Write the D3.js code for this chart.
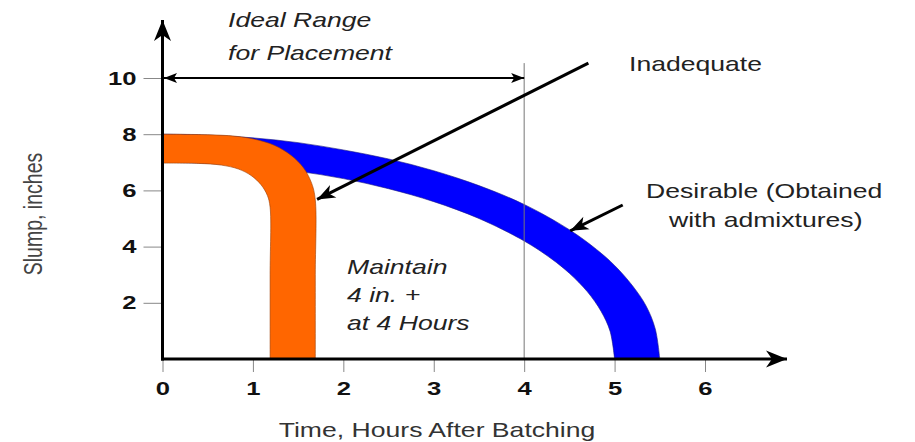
<!DOCTYPE html>
<html><head><meta charset="utf-8">
<script src="https://cdn.jsdelivr.net/npm/d3@7"></script>
<style>body{margin:0;background:#fff} svg{display:block}</style>
</head><body><svg id="c" width="915" height="442"></svg>
<script>
// ---- data (hours, slump inches) ----
const xTicks = [0, 1, 2, 3, 4, 5, 6];
const yTicks = [2, 4, 6, 8, 10];
const blueOuter = [[0,8],[0.5,7.97],[1,7.87],[1.5,7.7],[2,7.44],[2.5,7.12],[3,6.7],[3.5,6.17],[4,5.5],[4.5,4.6],[4.8,3.9],[5.0,3.33],[5.2,2.6],[5.35,1.88],[5.45,1.07],[5.5,0]];
const blueInner = [[0,7.0],[0.5,6.96],[1,6.86],[1.5,6.68],[2,6.42],[2.5,6.06],[3,5.6],[3.5,5.0],[4,4.2],[4.3,3.57],[4.5,3.05],[4.7,2.39],[4.85,1.7],[4.95,0.99],[5.0,0]];
const orangeOuter = [[0,8],[0.5,7.98],[0.8,7.93],[1.02,7.82],[1.24,7.6],[1.42,7.25],[1.56,6.8],[1.65,6.25],[1.69,5.66],[1.69,3],[1.69,0]];
const orangeInner = [[0,6.97],[0.4,6.96],[0.65,6.9],[0.84,6.76],[0.98,6.53],[1.09,6.2],[1.16,5.82],[1.19,5.4],[1.19,3],[1.19,0]];
const idealRange = [0, 4];       // hours
const idealSlump = 10;
const rangeLineTop = 10.53;      // top of the 4-hour guide line
const inadequateArrow = [[4.71,10.53],[1.71,5.68]];
const desirableArrow = [[5.09,5.48],[4.51,4.56]];

const svg = d3.select('#c');
const x = d3.scaleLinear().domain([0, 6]).range([162.5, 705]);
const y = d3.scaleLinear().domain([0, 10]).range([359, 78]);
const FONT = '"Liberation Sans", Arial, sans-serif';
const SX = 1.33; // horizontal stretch of the original picture's text

const defs = svg.append('defs');
function marker(id, L, W, notch){
  defs.append('marker').attr('id', id).attr('markerUnits','userSpaceOnUse')
    .attr('viewBox', `${-L} ${-W/2} ${L} ${W}`).attr('refX',0).attr('refY',0)
    .attr('markerWidth', L).attr('markerHeight', W).attr('orient','auto-start-reverse')
    .style('overflow','visible')
    .append('path').attr('d', `M0,0L${-L},${-W/2}L${-L+notch},0L${-L},${W/2}Z`).attr('fill','#000');
}
marker('axisHead', 21, 17, 6);
marker('annHead', 18, 14, 5);
marker('rangeHead', 13, 10, 3);

// bands
const line = d3.line().x(d => x(d[0])).y(d => y(d[1])).curve(d3.curveCatmullRom.alpha(0.5));
function band(outer, inner){
  return line(outer) + line(inner.slice().reverse()).replace(/^M/, 'L') + 'Z';
}
svg.append('path').attr('d', band(blueOuter, blueInner)).attr('fill', '#0000ff')
  .attr('stroke', '#1a1a80').attr('stroke-width', 0.6);
svg.append('path').attr('d', band(orangeOuter, orangeInner)).attr('fill', '#ff6600')
  .attr('stroke', '#9a3d00').attr('stroke-width', 0.6);

// 4-hour guide line
svg.append('line').attr('x1', x(4)).attr('x2', x(4)).attr('y1', y(rangeLineTop)).attr('y2', y(0))
  .attr('stroke', '#777').attr('stroke-width', 1);

// x axis ticks
const xa = svg.append('g').attr('transform', `translate(0,${y(0)})`)
  .call(d3.axisBottom(x).tickValues(xTicks).tickSize(13).tickPadding(10).tickFormat(d3.format('d')));
xa.select('.domain').remove();
xa.selectAll('line').attr('stroke', '#888');
xa.selectAll('text').attr('font-family', FONT).attr('font-size', 19).attr('font-weight', 'bold')
  .attr('fill', '#111').attr('transform', 'scale(1.35,1)');

// y axis ticks
const ya = svg.append('g').attr('transform', `translate(${x(0)},0)`)
  .call(d3.axisLeft(y).tickValues(yTicks).tickSize(19).tickPadding(10).tickFormat(d3.format('d')));
ya.select('.domain').remove();
ya.selectAll('line').attr('stroke', '#888');
ya.selectAll('text').attr('font-family', FONT).attr('font-size', 19).attr('font-weight', 'bold')
  .attr('fill', '#111').attr('x', -26 / 1.35).attr('transform', 'scale(1.35,1)');

// axis arrows
svg.append('line').attr('x1', x(0)).attr('x2', x(0)).attr('y1', y(0) + 1.5).attr('y2', 20)
  .attr('stroke', '#000').attr('stroke-width', 3).attr('marker-end', 'url(#axisHead)');
svg.append('line').attr('x1', x(0) - 1.5).attr('x2', 787).attr('y1', y(0)).attr('y2', y(0))
  .attr('stroke', '#000').attr('stroke-width', 3).attr('marker-end', 'url(#axisHead)');

// ideal range double arrow
svg.append('line').attr('x1', x(idealRange[0]) + 1.5).attr('x2', x(idealRange[1]))
  .attr('y1', y(idealSlump)).attr('y2', y(idealSlump))
  .attr('stroke', '#000').attr('stroke-width', 2)
  .attr('marker-start', 'url(#rangeHead)').attr('marker-end', 'url(#rangeHead)');

// annotation arrows
[inadequateArrow, desirableArrow].forEach(a => {
  svg.append('line').attr('x1', x(a[0][0])).attr('y1', y(a[0][1]))
    .attr('x2', x(a[1][0])).attr('y2', y(a[1][1]))
    .attr('stroke', '#000').attr('stroke-width', 3).attr('marker-end', 'url(#annHead)');
});

// texts
function txt(px, py, s, o = {}){
  return svg.append('text')
    .attr('transform', `translate(${px},${py}) scale(${o.sx || SX},1)` + (o.rot ? ` rotate(${o.rot})` : ''))
    .attr('font-family', FONT).attr('font-size', o.size || 20)
    .attr('font-style', o.italic ? 'italic' : 'normal')
    .attr('fill', o.fill || '#222').attr('text-anchor', o.anchor || 'start').text(s);
}
txt(228, 27, 'Ideal Range', {italic: true});
txt(228, 60, 'for Placement', {italic: true});
txt(629, 71, 'Inadequate');
txt(646, 198, 'Desirable (Obtained');
txt(669, 227, 'with admixtures)');
txt(347, 274, 'Maintain', {italic: true});
txt(347, 302, '4 in. +', {italic: true});
txt(347, 330, 'at 4 Hours', {italic: true});
txt(437, 437, 'Time, Hours After Batching', {anchor: 'middle', fill: '#333'});
txt(42, 214, 'Slump, inches', {anchor: 'middle', rot: -90, size: 19.5, fill: '#444'});
</script></body></html>
